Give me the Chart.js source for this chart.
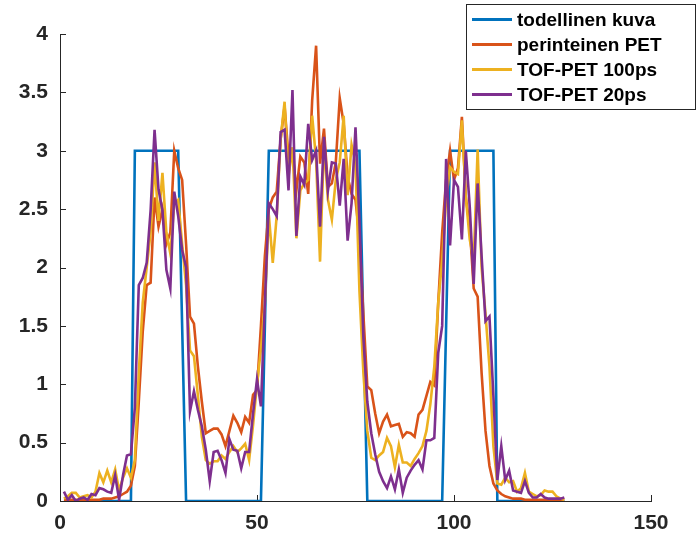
<!DOCTYPE html>
<html>
<head>
<meta charset="utf-8">
<script src="https://cdn.jsdelivr.net/npm/chart.js@4.4.1/dist/chart.umd.min.js"></script>
<style>
  html, body { margin: 0; padding: 0; background: #fff; }
  #wrap { width: 696px; height: 536px; }
</style>
</head>
<body>
<div id="wrap"><canvas id="myChart" width="696" height="536"></canvas></div>
<script>
const xs = [
  1, 2, 3, 4, 5, 6, 7, 8, 9, 10, 11, 12, 13, 14, 15, 16, 17, 18, 19, 20,
  21, 22, 23, 24, 25, 26, 27, 28, 29, 30, 31, 32, 33, 34, 35, 36, 37, 38, 39, 40,
  41, 42, 43, 44, 45, 46, 47, 48, 49, 50, 51, 52, 53, 54, 55, 56, 57, 58, 59, 60,
  61, 62, 63, 64, 65, 66, 67, 68, 69, 70, 71, 72, 73, 74, 75, 76, 77, 78, 79, 80,
  81, 82, 83, 84, 85, 86, 87, 88, 89, 90, 91, 92, 93, 94, 95, 96, 97, 98, 99, 100,
  101, 102, 103, 104, 105, 106, 107, 108, 109, 110, 111, 112, 113, 114, 115, 116, 117, 118, 119, 120,
  121, 122, 123, 124, 125, 126, 127, 128
];

const trueImage = [
  0, 0, 0, 0, 0, 0, 0, 0, 0, 0,
  0, 0, 0, 0, 0, 0, 0, 0, 3, 3,
  3, 3, 3, 3, 3, 3, 3, 3, 3, 3,
  1.5, 0, 0, 0, 0, 0, 0, 0, 0, 0,
  0, 0, 0, 0, 0, 0, 0, 0, 0, 0,
  0, 1.5, 3, 3, 3, 3, 3, 3, 3, 3,
  3, 3, 3, 3, 3, 3, 3, 3, 3, 3,
  3, 3, 3, 3, 3, 3, 1.5, 0, 0, 0,
  0, 0, 0, 0, 0, 0, 0, 0, 0, 0,
  0, 0, 0, 0, 0, 0, 0, 1.5, 3, 3,
  3, 3, 3, 3, 3, 3, 3, 3, 3, 3,
  0, 0, 0, 0, 0, 0, 0, 0, 0, 0,
  0, 0, 0, 0, 0, 0, 0, 0
];

const conventionalPet = [
  0.01, 0.01, 0.01, 0.01, 0.01, 0.01, 0.01, 0.01, 0.01, 0.01,
  0.02, 0.02, 0.02, 0.03, 0.04, 0.06, 0.08, 0.13, 0.3, 0.85,
  1.45, 1.85, 1.87, 2.6, 2.35, 2.5, 2.2, 2.3, 3.0, 2.85,
  2.75, 2.2, 1.58, 1.52, 1.15, 0.85, 0.58, 0.6, 0.62, 0.62,
  0.57, 0.47, 0.6, 0.73, 0.67, 0.59, 0.72, 0.67, 0.91, 0.95,
  1.5, 2.1, 2.5, 2.6, 2.65, 3.1, 3.38, 2.95, 3.0, 2.66,
  2.95, 2.9, 2.63, 3.43, 3.9, 2.89, 3.19, 2.69, 2.72, 2.9,
  3.45, 3.23, 2.78, 2.63, 2.58, 2.26, 1.6, 0.98, 0.95, 0.75,
  0.58, 0.68, 0.74, 0.64, 0.65, 0.66, 0.55, 0.59, 0.58, 0.55,
  0.74, 0.78, 0.9, 1.02, 0.99, 1.7, 2.3, 2.75, 3.0, 2.75,
  2.85, 3.29, 2.6, 2.35, 1.82, 1.75, 1.1, 0.6, 0.3, 0.15,
  0.09, 0.06, 0.04, 0.03, 0.02, 0.02, 0.02, 0.01, 0.01, 0.01,
  0.01, 0.01, 0.01, 0.01, 0.01, 0.01, 0.01, 0.01
];

const tof100 = [
  0.02, 0.04, 0.07, 0.07, 0.03, 0.04, 0.05, 0.03, 0.08, 0.24,
  0.16, 0.26, 0.16, 0.27, 0.09, 0.2, 0.28, 0.2, 0.35, 1.1,
  1.7, 2.0, 2.3, 2.9, 2.4, 2.81, 2.3, 2.12, 2.55, 2.58,
  2.2, 1.85, 1.29, 1.24, 0.9, 0.55, 0.35, 0.32, 0.34, 0.34,
  0.39, 0.36, 0.42, 0.47, 0.42, 0.45, 0.49, 0.35, 0.65, 1.0,
  1.3, 1.7, 2.45, 2.04, 2.44, 3.1, 3.42, 2.78, 3.03, 2.25,
  2.66, 2.72, 2.75, 3.3, 2.92, 2.05, 3.06, 2.58, 2.41, 2.75,
  2.9, 3.3, 2.62, 3.05, 2.89, 1.8, 1.1, 0.6, 0.37, 0.35,
  0.39, 0.42, 0.54, 0.47, 0.29, 0.48, 0.33, 0.33, 0.3, 0.36,
  0.41, 0.47, 0.6, 0.83, 1.15, 1.7, 2.06, 2.58, 2.86, 2.82,
  2.8, 3.26, 2.6, 2.24, 2.06, 3.01, 2.0, 1.6, 1.15, 0.47,
  0.15, 0.14, 0.2, 0.16, 0.17, 0.08, 0.11, 0.24, 0.08, 0.06,
  0.04, 0.05, 0.09, 0.08, 0.08, 0.04, 0.02, 0.01
];

const tof20 = [
  0.08, 0.01, 0.05, 0, 0.02, 0.03, 0.01, 0.06, 0.05, 0.11,
  0.1, 0.08, 0.07, 0.22, 0.01, 0.22, 0.39, 0.4, 0.8, 1.85,
  1.91, 2.04, 2.49, 3.18, 2.67, 2.49, 1.98, 1.82, 2.65, 2.44,
  2.15, 2.0, 0.77, 0.94, 0.78, 0.64, 0.44, 0.17, 0.42, 0.43,
  0.35, 0.24, 0.53, 0.44, 0.43, 0.28, 0.42, 0.42, 0.75, 1.04,
  0.81, 1.7, 2.55, 2.5, 2.44, 3.16, 3.18, 2.66, 3.52, 2.27,
  2.78, 2.71, 3.23, 2.92, 3.0, 2.35, 3.12, 2.66, 2.9, 2.89,
  2.53, 2.93, 2.23, 2.55, 3.2, 2.4, 1.4, 0.85, 0.58, 0.4,
  0.25, 0.17, 0.11, 0.21, 0.1, 0.27, 0.07, 0.2, 0.26, 0.31,
  0.35, 0.27, 0.52, 0.52, 0.54, 1.27, 1.5, 2.93, 2.19, 2.75,
  2.69, 2.24, 3.0, 2.52, 1.86, 2.72, 2.1, 1.54, 1.58, 0.9,
  0.18, 0.47, 0.18, 0.26, 0.09, 0.08, 0.07, 0.17, 0.07, 0.03,
  0.03, 0.06, 0.03, 0.02, 0.02, 0.02, 0.02, 0.03
];

const seriesLabels = ["todellinen kuva", "perinteinen PET", "TOF-PET 100ps", "TOF-PET 20ps"];
const seriesColors = ["#0072BD", "#D95319", "#EDB120", "#7E2F8E"];
const xTicks = [0, 50, 100, 150];
const yTicks = [0, 0.5, 1, 1.5, 2, 2.5, 3, 3.5, 4];

const axisColor = "#262626";
const tickFont = { family: "'Liberation Sans', Arial, sans-serif", size: 21, weight: "bold" };

function points(values) {
  return xs.map((x, i) => ({ x: x, y: values[i] }));
}

const allSeries = [trueImage, conventionalPet, tof100, tof20];

// MATLAB style inward ticks + boxed legend in the upper right
const matlabDecor = {
  id: "matlabDecor",
  beforeDatasetsDraw(chart) {
    const c = chart.ctx;
    const xs_ = chart.scales.x, ys_ = chart.scales.y;
    const left = xs_.left, bottom = ys_.bottom;
    c.save();
    c.strokeStyle = axisColor;
    c.lineWidth = 1;
    c.beginPath();
    yTicks.forEach(v => {
      const py = Math.round(ys_.getPixelForValue(v)) + 0.5;
      c.moveTo(left, py);
      c.lineTo(left + 6, py);
    });
    xTicks.forEach(v => {
      const px = Math.round(xs_.getPixelForValue(v)) + 0.5;
      c.moveTo(px, bottom);
      c.lineTo(px, bottom - 6);
    });
    c.stroke();
    c.restore();
  },
  afterDatasetsDraw(chart) {
    const c = chart.ctx;
    const bx = 466.5, by = 4.5, bw = 229, bh = 105;
    c.save();
    c.fillStyle = "#fff";
    c.fillRect(bx, by, bw, bh);
    c.strokeStyle = axisColor;
    c.lineWidth = 1;
    c.strokeRect(bx, by, bw, bh);
    c.font = "bold 19px 'Liberation Sans', Arial, sans-serif";
    c.textBaseline = "middle";
    c.fillStyle = "#000";
    chart.data.datasets.forEach((ds, i) => {
      const y = 19.5 + i * 25;
      c.strokeStyle = ds.borderColor;
      c.lineWidth = 3;
      c.beginPath();
      c.moveTo(472, y);
      c.lineTo(512, y);
      c.stroke();
      c.fillText(ds.label, 517, y + 1);
    });
    c.restore();
  }
};

const ctx = document.getElementById("myChart");

new Chart(ctx, {
  type: "line",
  data: {
    datasets: allSeries.map((s, i) => ({
      label: seriesLabels[i],
      data: points(s),
      borderColor: seriesColors[i],
      backgroundColor: seriesColors[i],
      borderWidth: 2.6,
      pointRadius: 0,
      tension: 0,
      fill: false,
      order: 4 - i,
    })),
  },
  options: {
    responsive: false,
    animation: false,
    devicePixelRatio: 1,
    layout: {
      padding: { top: 34, right: 45, left: 0, bottom: 0 },
    },
    plugins: {
      legend: false,
      tooltip: { enabled: false },
    },
    scales: {
      x: {
        type: "linear",
        min: 0,
        max: 150,
        afterBuildTicks: (scale) => { scale.ticks = xTicks.map(v => ({ value: v })); },
        afterFit: (scale) => { scale.height = 35; },
        grid: { display: false, drawTicks: false },
        border: { display: true, color: axisColor, width: 1 },
        ticks: {
          color: axisColor,
          font: tickFont,
          padding: 10,
          maxRotation: 0,
          callback: (value) => String(value),
        },
      },
      y: {
        min: 0,
        max: 4,
        afterBuildTicks: (scale) => { scale.ticks = yTicks.map(v => ({ value: v })); },
        afterFit: (scale) => { scale.width = 60; },
        grid: { display: false, drawTicks: false },
        border: { display: true, color: axisColor, width: 1 },
        ticks: {
          color: axisColor,
          font: tickFont,
          padding: 12,
          callback: (value) => String(value),
        },
      },
    },
  },
  plugins: [matlabDecor],
});
</script>
</body>
</html>
